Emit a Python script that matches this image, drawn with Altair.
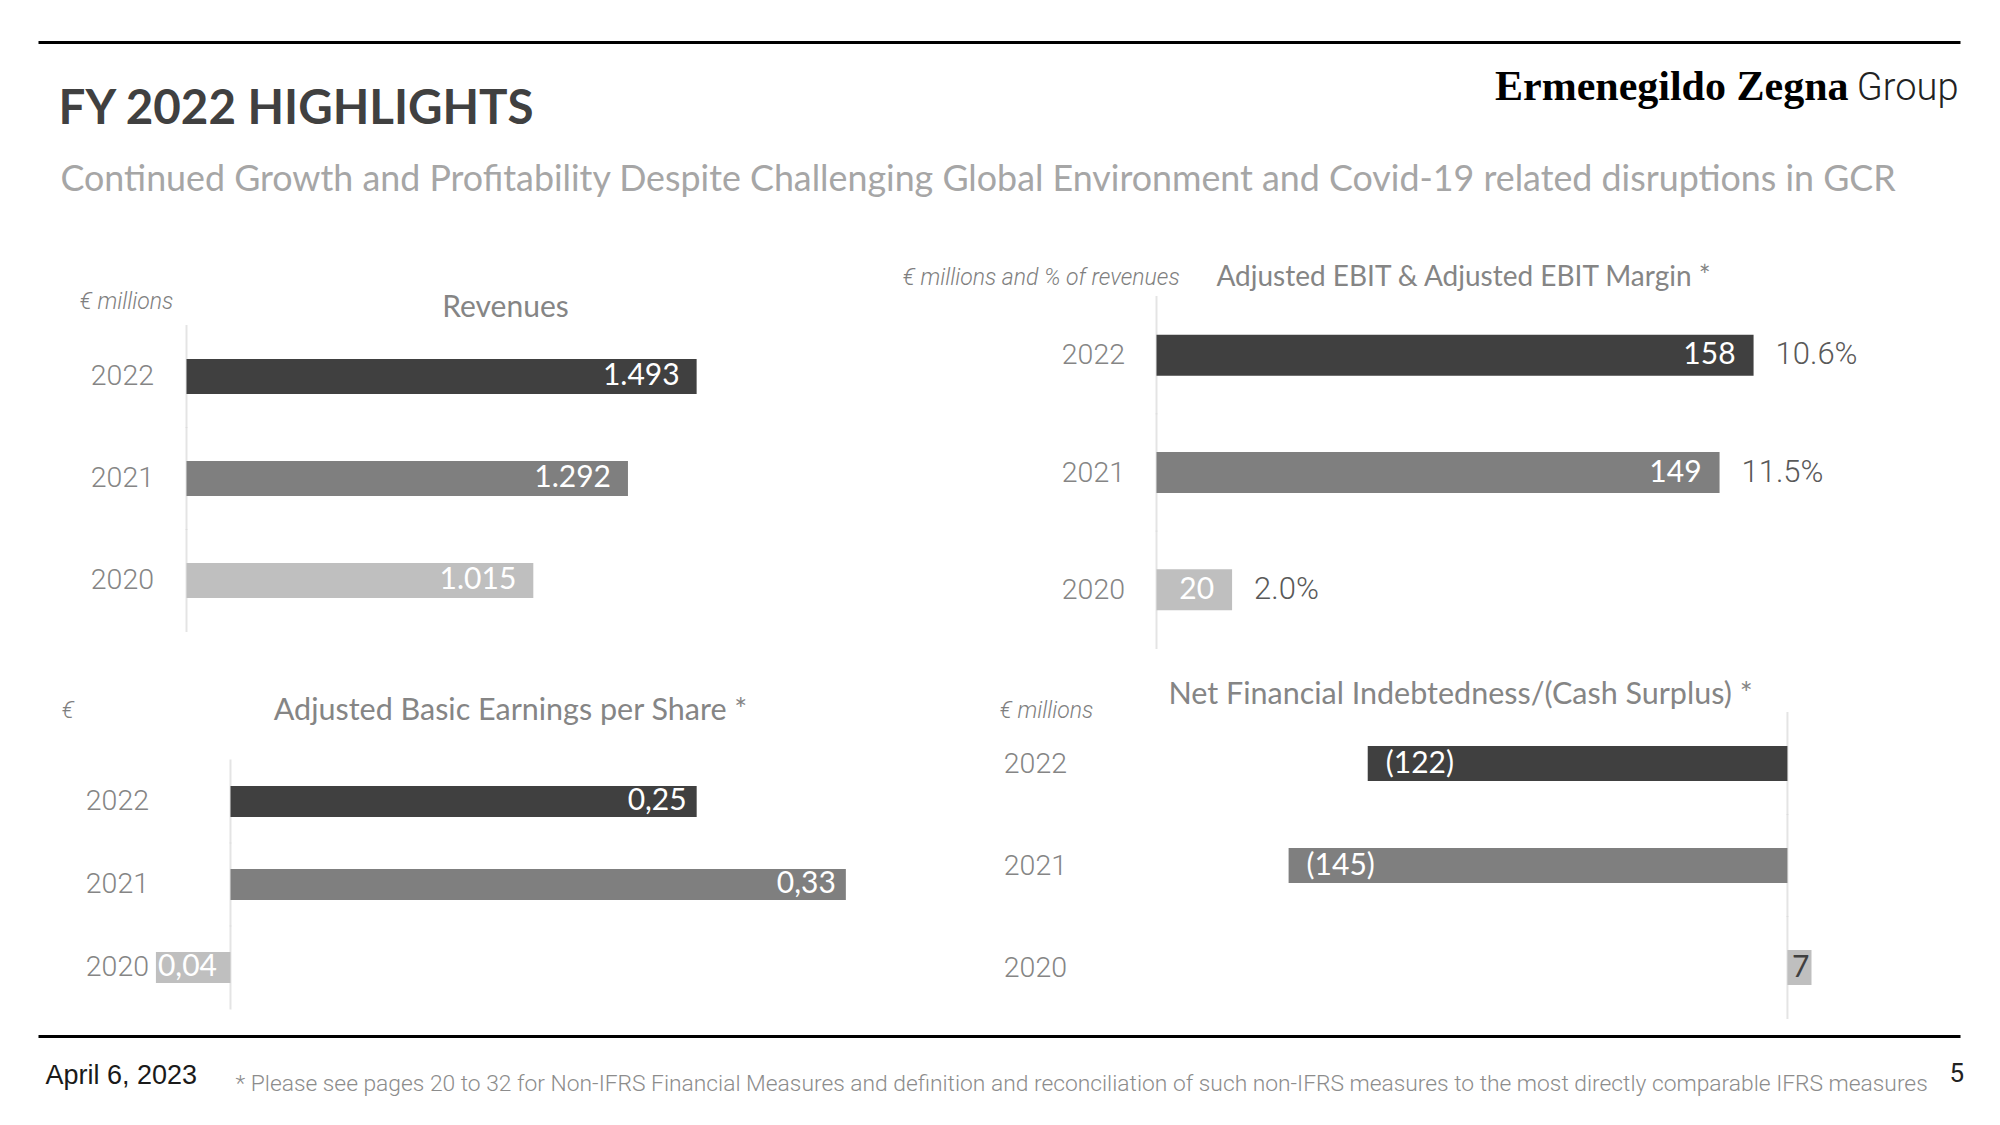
import altair as alt
import pandas as pd

# ---------------- data ----------------
years = ["2022", "2021", "2020"]
bar_colors = ["#404040", "#7f7f7f", "#bfbfbf"]

revenues = [1493, 1292, 1015]
revenue_labels = ["1.493", "1.292", "1.015"]

ebit = [158, 149, 20]
ebit_labels = ["158", "149", "20"]
ebit_margin_labels = ["10.6%", "11.5%", "2.0%"]

eps = [0.25, 0.33, -0.04]
eps_labels = ["0,25", "0,33", "0,04"]

nfi = [-122, -145, 7]
nfi_labels = ["(122)", "(145)", "7"]

# ---------------- styles ----------------
LATO = "Lato"
THIN = "Roboto"
ARIAL = "Liberation Sans, Arial, sans-serif"
dummy = pd.DataFrame({"k": [0]})


def txt(s, x, y, size, color, font, align="left", baseline="alphabetic",
        weight="normal", style="normal"):
    return alt.Chart(dummy).mark_text(
        text=s, align=align, baseline=baseline, font=font, fontSize=size,
        color=color, fontWeight=weight, fontStyle=style
    ).encode(x=alt.value(x), y=alt.value(y))


def hrule(x1, x2, y):
    return alt.Chart(dummy).mark_rule(color="#000000", strokeWidth=3).encode(
        x=alt.value(x1), x2=alt.value(x2), y=alt.value(y))


def panel(df, dom, width, height, po, al, bar_size, label_pad,
          label_layers, extra_layers):
    step = height / (3 + 2 * po)
    yenc = alt.Y(
        "year:N", sort=years,
        scale=alt.Scale(domain=years, paddingInner=0, paddingOuter=po, align=al),
        axis=alt.Axis(title=None, domain=False, ticks=False, tickSize=0,
                      labelPadding=label_pad, labelFont=THIN, labelFontSize=28.5,
                      labelFontWeight=300, labelColor="#858585"))
    xscale = alt.Scale(domain=dom, nice=False)
    xenc = alt.X("value:Q", scale=xscale, axis=None)
    base = alt.Chart(df)
    zero_line = base.mark_tick(orient="vertical", size=step + 1, thickness=2,
                               color="#d9d9d9").encode(
        x=alt.X(datum=0, scale=xscale, axis=None), y=yenc)
    bars = base.mark_bar(size=bar_size).encode(
        x=xenc, y=yenc,
        color=alt.Color("year:N", scale=alt.Scale(domain=years, range=bar_colors),
                        legend=None))
    layers = [zero_line, bars]
    for flt, props, field in label_layers:
        ch = base.mark_text(baseline="middle", **props).encode(
            x=xenc, y=yenc, text=alt.Text(field + ":N"))
        if flt is not None:
            ch = ch.transform_filter(flt)
        layers.append(ch)
    layers.extend(extra_layers)
    return alt.layer(*layers).properties(width=width, height=height)


white = dict(color="white", font=LATO, fontSize=30)
TITLE_C = "#858585"
UNIT_C = "#7f7f7f"

# ---------- Revenues (origin page 186,296) ----------
header_footer = [
    hrule(-148, 1774, -254),
    hrule(-148, 1774, 740),
    txt("FY 2022 HIGHLIGHTS", -128, -173, 47.5, "#404040", LATO, weight="bold"),
    txt("Continued Growth and Profitability Despite Challenging Global Environment "
        "and Covid-19 related disruptions in GCR", -126, -106, 35.8, "#a6a6a6", LATO),
    txt("Ermenegildo Zegna", 1662, -197, 42, "#000000",
        "Liberation Serif, serif", align="right", weight="bold"),
    txt("Group", 1772, -197, 38, "#222222", THIN, align="right", weight=300),
    txt("April 6, 2023", -141, 787, 27, "#1a1a1a", ARIAL),
    txt("* Please see pages 20 to 32  for  Non-IFRS Financial Measures and definition "
        "and reconciliation of such non-IFRS measures to the most directly comparable "
        "IFRS measures", 49, 794, 22.8, "#8c8c8c", THIN, weight=300),
    txt("5", 1763, 785, 26, "#222222", THIN),
    txt("€ millions", -107, 5, 23, UNIT_C, THIN, baseline="middle", style="italic",
        weight=300),
    txt("Revenues", 319, 11, 30, TITLE_C, LATO, align="center", baseline="middle"),
]
df_rev = pd.DataFrame({"year": years, "value": revenues, "label": revenue_labels})
p_rev = panel(
    df_rev, [0, 1756], 600, 352, 0.2255, 0.63, 35, 33,
    [(None, dict(align="right", dx=-17, **white), "label")],
    header_footer)

# ---------- EBIT (origin page 1156,296) ----------
df_ebit = pd.DataFrame({"year": years, "value": ebit, "label": ebit_labels,
                        "margin": ebit_margin_labels})
p_ebit = panel(
    df_ebit, [0, 190], 718, 352, 0.0, 0.5, 41, 32,
    [(None, dict(align="right", dx=-18, **white), "label"),
     (None, dict(align="left", dx=22, color="#595959", font=THIN, fontSize=31,
                 fontWeight=300), "margin")],
    [txt("€ millions and % of revenues", -254, -19, 23, UNIT_C, THIN,
         baseline="middle", style="italic", weight=300),
     txt("Adjusted EBIT & Adjusted EBIT Margin *", 307, -19, 28, TITLE_C, LATO,
         align="center", baseline="middle")])

# ---------- EPS (origin page 186,712) ----------
df_eps = pd.DataFrame({"year": years, "value": eps, "label": eps_labels})
p_eps = panel(
    df_eps, [-0.0236, 0.34], 678, 306, 0.3434, 0.833, 31, 38,
    [(alt.datum.value > 0, dict(align="right", dx=-10, **white), "label"),
     (alt.datum.value < 0, dict(align="left", dx=2, **white), "label")],
    [txt("€", -125, -2, 23, UNIT_C, THIN, baseline="middle", style="italic",
         weight=300),
     txt("Adjusted Basic Earnings per Share *", 324, -2, 30.5, TITLE_C, LATO,
         align="center", baseline="middle")])

# ---------- NFI (origin page 1156,712) ----------
df_nfi = pd.DataFrame({"year": years, "value": nfi, "label": nfi_labels})
p_nfi = panel(
    df_nfi, [-183.4, 14.85], 682, 306, 0.0, 0.5, 35, 90,
    [(alt.datum.value < 0, dict(align="left", dx=18, **white), "label"),
     (alt.datum.value > 0, dict(align="right", dx=-2, color="#404040", font=LATO,
                                fontSize=30), "label")],
    [txt("€ millions", -157, -2, 23, UNIT_C, THIN, baseline="middle",
         style="italic", weight=300),
     txt("Net Financial Indebtedness/(Cash Surplus) *", 304, -18, 30.5, TITLE_C,
         LATO, align="center", baseline="middle")])

chart = alt.concat(
    p_rev, p_ebit, p_eps, p_nfi, columns=2,
    spacing={"row": 64, "column": 292}, bounds="flush"
).properties(
    padding={"left": 28.5, "top": 32.5, "right": 0, "bottom": 0},
    background="white"
).configure_view(strokeWidth=0)

chart.save("out.html", embed_options={"renderer": "svg", "actions": False})
